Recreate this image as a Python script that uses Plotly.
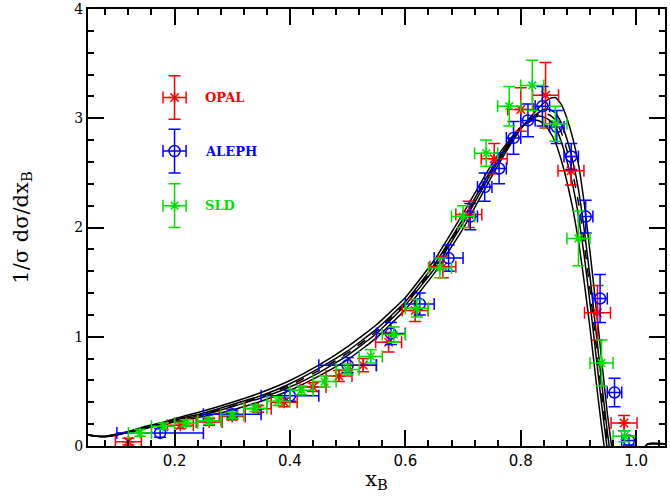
import plotly.graph_objects as go

# ---------------- theory curves ----------------
curve_x = [0.05, 0.065, 0.08, 0.10, 0.125, 0.15, 0.175, 0.20, 0.25, 0.30, 0.35, 0.40, 0.45, 0.50,
           0.55, 0.60, 0.65, 0.70, 0.75, 0.78, 0.80, 0.82, 0.83, 0.84, 0.85, 0.86, 0.87, 0.88,
           0.89, 0.90, 0.91, 0.92, 0.93, 0.94, 0.95, 0.96, 0.97, 0.99, 1.01, 1.02, 1.05]
curve_a = [0.10, 0.09, 0.085, 0.10, 0.13, 0.16, 0.19, 0.22, 0.27, 0.33, 0.41, 0.51, 0.64, 0.79,
           0.99, 1.25, 1.58, 1.99, 2.47, 2.74, 2.90, 3.03, 3.09, 3.14, 3.18, 3.19, 3.13, 3.00,
           2.82, 2.58, 2.22, 1.78, 1.30, 0.80, 0.30, -0.10, -0.40, -0.35, -0.05, 0.02, 0.02]
curve_b = [0.10, 0.09, 0.087, 0.103, 0.133, 0.167, 0.197, 0.23, 0.285, 0.36, 0.44, 0.54, 0.67, 0.83,
           1.03, 1.29, 1.62, 2.04, 2.51, 2.76, 2.91, 3.01, 3.05, 3.08, 3.08, 3.05, 2.96, 2.81,
           2.61, 2.35, 1.98, 1.55, 1.07, 0.59, 0.13, -0.22, -0.43, -0.35, -0.05, 0.02, 0.02]
curve_m = [0.10, 0.09, 0.0875, 0.105, 0.135, 0.17, 0.20, 0.235, 0.295, 0.365, 0.45, 0.555, 0.69, 0.85,
           1.05, 1.305, 1.64, 2.06, 2.525, 2.77, 2.91, 3.005, 3.035, 3.045, 3.03, 2.985, 2.875, 2.71,
           2.50, 2.23, 1.86, 1.43, 0.96, 0.49, 0.05, -0.275, -0.45, -0.35, -0.05, 0.02, 0.02]
curve_c = [0.10, 0.09, 0.088, 0.107, 0.137, 0.173, 0.203, 0.24, 0.30, 0.38, 0.46, 0.57, 0.71, 0.87,
           1.07, 1.32, 1.66, 2.08, 2.54, 2.78, 2.91, 2.99, 3.02, 3.01, 2.98, 2.92, 2.79, 2.61,
           2.39, 2.11, 1.74, 1.31, 0.85, 0.39, -0.03, -0.33, -0.47, -0.35, -0.05, 0.02, 0.02]
curve_d = [0.10, 0.09, 0.09, 0.11, 0.14, 0.18, 0.21, 0.25, 0.32, 0.40, 0.49, 0.60, 0.74, 0.91,
           1.11, 1.36, 1.70, 2.13, 2.58, 2.80, 2.92, 2.98, 2.98, 2.95, 2.88, 2.78, 2.62, 2.42,
           2.18, 1.88, 1.50, 1.08, 0.62, 0.18, -0.20, -0.45, -0.50, -0.35, -0.05, 0.02, 0.02]

# ---------------- OPAL ----------------
opal_x = [0.12, 0.21, 0.26, 0.30, 0.345, 0.39, 0.44, 0.485, 0.527, 0.571, 0.617, 0.665, 0.71,
          0.754, 0.80, 0.843, 0.887, 0.933, 0.979]
opal_y = [0.04, 0.19, 0.22, 0.27, 0.34, 0.40, 0.54, 0.64, 0.74, 0.95, 1.24, 1.64, 2.12,
          2.63, 3.08, 3.21, 2.52, 1.22, 0.21]
opal_yerr = [0.03, 0.03, 0.03, 0.03, 0.03, 0.04, 0.04, 0.05, 0.06, 0.09, 0.10, 0.10, 0.12,
             0.14, 0.20, 0.30, 0.13, 0.25, 0.07]
opal_xerr = [0.0225] * len(opal_x)

# ---------------- ALEPH ----------------
aleph_x = [0.175, 0.30, 0.40, 0.50, 0.575, 0.625, 0.675, 0.7125, 0.7375, 0.7625, 0.7875,
           0.8125, 0.8375, 0.8625, 0.8875, 0.9125, 0.9375, 0.9625, 0.9875]
aleph_y = [0.12, 0.29, 0.46, 0.74, 1.03, 1.30, 1.72, 2.10, 2.37, 2.54, 2.82,
           2.98, 3.11, 2.92, 2.65, 2.10, 1.35, 0.49, 0.05]
aleph_yerr = [0.04, 0.04, 0.05, 0.07, 0.10, 0.10, 0.12, 0.12, 0.13, 0.14, 0.15,
              0.15, 0.18, 0.15, 0.12, 0.15, 0.22, 0.13, 0.04]
aleph_xerr = [0.075, 0.05, 0.05, 0.05, 0.025, 0.025, 0.025, 0.0125, 0.0125, 0.0125, 0.0125,
              0.0125, 0.0125, 0.0125, 0.0125, 0.0125, 0.0125, 0.0125, 0.0125]

# ---------------- SLD ----------------
sld_x = [0.14, 0.18, 0.22, 0.26, 0.30, 0.34, 0.38, 0.42, 0.46, 0.50, 0.54, 0.58, 0.62,
         0.66, 0.70, 0.74, 0.78, 0.82, 0.86, 0.90, 0.94, 0.98]
sld_y = [0.12, 0.18, 0.21, 0.23, 0.28, 0.345, 0.41, 0.51, 0.59, 0.70, 0.82, 1.02, 1.26,
         1.63, 2.10, 2.68, 3.11, 3.30, 2.95, 1.90, 0.76, 0.09]
sld_yerr = [0.03, 0.03, 0.03, 0.03, 0.03, 0.03, 0.04, 0.04, 0.05, 0.05, 0.06, 0.07, 0.08,
            0.09, 0.10, 0.12, 0.18, 0.23, 0.16, 0.25, 0.21, 0.05]
sld_xerr = [0.02] * len(sld_x)

# ---------------- legend ----------------
legend_names = ["OPAL", "ALEPH", "SLD"]
legend_x = [0.2, 0.2, 0.2]
legend_y = [3.19, 2.70, 2.20]
legend_text_x = 0.25

RED, BLUE, GREEN = "#ff0000", "#0000ff", "#00e000"
colors = [RED, BLUE, GREEN]
symbols = ["asterisk-open", "circle-open", "asterisk-open"]
sizes = [10, 11, 9]

fig = go.Figure()

for cy, dash in [(curve_a, "solid"), (curve_b, "solid"), (curve_m, "dash"),
                 (curve_c, "solid"), (curve_d, "solid")]:
    fig.add_trace(go.Scatter(x=curve_x, y=cy, mode="lines",
                             line=dict(color="black", width=1.5, dash=dash, shape="spline",
                                       smoothing=0.4),
                             showlegend=False, hoverinfo="skip"))

datasets = [(opal_x, opal_y, opal_xerr, opal_yerr),
            (aleph_x, aleph_y, aleph_xerr, aleph_yerr),
            (sld_x, sld_y, sld_xerr, sld_yerr)]
for (xs, ys, xe, ye), col, sym, sz in zip(datasets, colors, symbols, sizes):
    fig.add_trace(go.Scatter(
        x=xs, y=ys, mode="markers",
        marker=dict(symbol=sym, size=sz, color=col, line=dict(color=col, width=1.5)),
        error_x=dict(type="data", array=xe, color=col, thickness=1.5, width=6),
        error_y=dict(type="data", array=ye, color=col, thickness=1.5, width=6),
        showlegend=False, cliponaxis=False))

for i, name in enumerate(legend_names):
    col = colors[i]
    fig.add_trace(go.Scatter(
        x=[legend_x[i]], y=[legend_y[i]], mode="markers",
        marker=dict(symbol=symbols[i], size=sizes[i], color=col, line=dict(color=col, width=1.5)),
        error_x=dict(type="data", array=[0.02], color=col, thickness=1.5, width=6),
        error_y=dict(type="data", array=[0.2], color=col, thickness=1.5, width=6),
        showlegend=False))
    fig.add_annotation(x=legend_text_x, y=legend_y[i], text="<b>%s</b>" % name,
                       showarrow=False, xanchor="left", yanchor="middle",
                       font=dict(family="DejaVu Serif", size=13, color=col))

fig.update_layout(
    width=670, height=499,
    margin=dict(l=88, r=5, t=9, b=53, autoexpand=False),
    paper_bgcolor="white", plot_bgcolor="white",
    showlegend=False,
)
fig.update_xaxes(
    range=[0.05, 1.05], tick0=0, dtick=0.2, tickformat=".1f",
    ticks="inside", ticklen=16, tickwidth=1.5, tickcolor="black",
    minor=dict(dtick=0.04, tick0=0, ticks="inside", ticklen=6, tickwidth=1.5, tickcolor="black"),
    showline=True, linewidth=2, linecolor="black", mirror="ticks",
    showgrid=False, zeroline=False, automargin=False,
    tickfont=dict(family="DejaVu Sans", size=15, color="black"),
    title=dict(text="x<sub>B</sub>", font=dict(family="DejaVu Serif", size=21, color="black"),
               standoff=2),
)
fig.update_yaxes(
    range=[0, 4], tick0=0, dtick=1,
    ticks="inside", ticklen=16, tickwidth=1.5, tickcolor="black",
    minor=dict(dtick=0.2, tick0=0, ticks="inside", ticklen=6, tickwidth=1.5, tickcolor="black"),
    showline=True, linewidth=2, linecolor="black", mirror="ticks",
    showgrid=False, zeroline=False, automargin=False,
    tickfont=dict(family="DejaVu Serif", size=14, color="black"),
    title=dict(text="1/σ dσ/dx<sub>B</sub>", font=dict(family="DejaVu Serif", size=21, color="black"),
               standoff=40),
)

fig.write_html("out.html",
               config={"displayModeBar": False},
               post_script="document.body.style.margin='0';document.body.style.overflow='hidden';")
